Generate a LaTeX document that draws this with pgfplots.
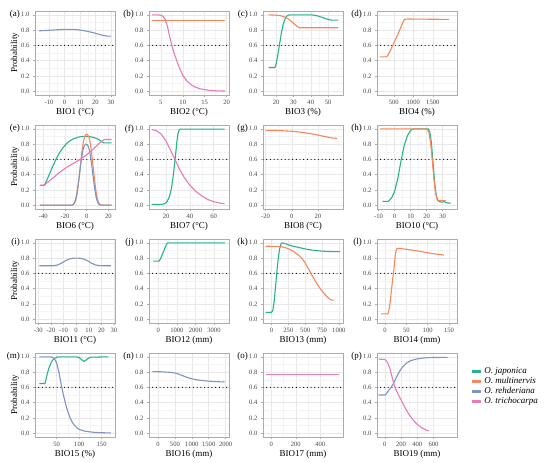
\documentclass[border=0pt]{standalone}
\usepackage{fontspec}
\setmainfont{Liberation Serif}
\usepackage{pgfplots}
\pgfplotsset{compat=1.18}
\definecolor{cjap}{RGB}{38,178,143}
\definecolor{cmul}{RGB}{246,135,90}
\definecolor{creh}{RGB}{125,148,196}
\definecolor{ctri}{RGB}{232,122,184}
\tikzset{plab/.style={font=\fontsize{9}{10}\selectfont, anchor=east, inner sep=0pt}}
\pgfplotsset{
  panel/.style={
    scale only axis, width=80pt, height=84pt, anchor=north west,
    ymin=-0.05, ymax=1.05, ytick={0,0.2,0.4,0.6,0.8,1},
    minor x tick num=1, minor y tick num=1,
    grid=both,
    major grid style={gray!18, line width=0.5pt},
    minor grid style={gray!9, line width=0.35pt},
    axis line style={gray!65, line width=0.5pt},
    tick pos=left, tick align=outside,
    major tick length=2pt, minor tick length=0pt,
    tick style={gray!65, line width=0.5pt},
    /pgf/number format/assume math mode=true,
    scaled ticks=false,
    ticklabel style={font=\fontsize{6.6}{7}\selectfont, text=black!72},
    yticklabel style={/pgf/number format/.cd, fixed, fixed zerofill, precision=1},
    xticklabel style={/pgf/number format/.cd, fixed, 1000 sep={}},
    xlabel style={font=\fontsize{9}{10}\selectfont, at={(axis description cs:0.5,0)}, anchor=center, yshift=-17pt},
    ylabel style={font=\fontsize{9}{10}\selectfont, at={(axis description cs:-0.25,0.5)}, anchor=center},
    every axis plot/.append style={line width=1.1pt, no markers, line join=round},
  },
  thr/.style={black, line width=1.2pt, line cap=round, dash pattern=on 0pt off 3.7pt},
}
\newcommand{\keyimg}[1]{\addlegendimage{legend image code/.code={\fill[#1] (0pt,-0.9pt) rectangle (8pt,0.9pt); \path (11pt,0pt);}}}
\begin{document}
\begin{tikzpicture}[x=1pt,y=1pt]
\path[use as bounding box] (0,0) rectangle (550,463);
% ---------- row 1 ----------
\begin{axis}[panel, name=a, at={(35pt,452pt)}, xmin=-19, xmax=32.6, xtick={-10,0,10,20,30}, xlabel={BIO1 (°C)}, ylabel={Probability}]
\addplot[thr] coordinates {(-19,0.6)(32.6,0.6)};
\addplot[creh] coordinates {(-16.4,0.79)(-12,0.795)(-8,0.8)(-4,0.805)(0,0.81)(4,0.81)(8,0.806)(12,0.795)(16,0.778)(20,0.758)(24,0.735)(27,0.722)(30,0.72)};
\end{axis}
\node[plab] at ([xshift=-15pt,yshift=-3.8pt]a.north west) {(a)};

\begin{axis}[panel, name=b, at={(149pt,452pt)}, xmin=2.3, xmax=20.55, xtick={5,10,15,20}, xlabel={BIO2 (°C)}]
\addplot[thr] coordinates {(2.3,0.6)(20.55,0.6)};
\addplot[cmul] coordinates {(3.0,0.93)(19.6,0.93)};
\addplot[ctri] coordinates {(3.0,1.0)(4,1.0)(5,0.995)(5.5,0.98)(6,0.94)(6.5,0.85)(7,0.72)(7.5,0.6)(8,0.5)(8.5,0.42)(9,0.34)(9.5,0.27)(10,0.21)(11,0.13)(12,0.08)(13,0.05)(14,0.03)(15,0.02)(16,0.012)(17,0.007)(18,0.004)(19.6,0.002)};
\end{axis}
\node[plab] at ([xshift=-15pt,yshift=-3.8pt]b.north west) {(b)};

\begin{axis}[panel, name=c, at={(263pt,452pt)}, xmin=12.4, xmax=58.6, xtick={20,30,40,50}, xlabel={BIO3 (\%)}]
\addplot[thr] coordinates {(12.4,0.6)(58.6,0.6)};
\addplot[cjap] coordinates {(15.6,0.31)(19.3,0.31)(20,0.36)(21,0.48)(22,0.62)(23,0.76)(24,0.87)(25,0.94)(26,0.98)(27,0.995)(28,1.0)(40,1.0)(42,0.995)(44,0.985)(46,0.97)(48,0.955)(50,0.94)(52,0.93)(54,0.93)(56,0.93)};
\addplot[cmul] coordinates {(15.6,1.0)(20,0.995)(22,0.99)(24,0.98)(26,0.96)(28,0.93)(30,0.89)(32,0.85)(33.5,0.83)(56,0.83)};
\end{axis}
\node[plab] at ([xshift=-15pt,yshift=-3.8pt]c.north west) {(c)};

\begin{axis}[panel, name=d, at={(377pt,452pt)}, xmin=70, xmax=2120, xtick={500,1000,1500}, xlabel={BIO4 (\%)}]
\addplot[thr] coordinates {(70,0.6)(2120,0.6)};
\addplot[cmul] coordinates {(140,0.45)(315,0.45)(350,0.47)(400,0.52)(500,0.63)(600,0.74)(700,0.86)(750,0.92)(780,0.94)(850,0.945)(1920,0.94)};
\end{axis}
\node[plab] at ([xshift=-15pt,yshift=-3.8pt]d.north west) {(d)};
% ---------- row 2 ----------
\begin{axis}[panel, name=e, at={(35pt,338pt)}, xmin=-47.7, xmax=26.1, xtick={-40,-20,0,20}, xlabel={BIO6 (°C)}, ylabel={Probability}]
\addplot[thr] coordinates {(-47.7,0.6)(26.1,0.6)};
\addplot[cjap] coordinates {(-43.1,0.26)(-39,0.26)(-37,0.32)(-34,0.42)(-31,0.52)(-28,0.61)(-25,0.69)(-22,0.75)(-19,0.8)(-16,0.84)(-12,0.87)(-8,0.89)(-4,0.9)(0,0.9)(4,0.895)(8,0.88)(11,0.86)(14,0.83)(16,0.815)(18,0.815)(23,0.815)};
\addplot[cmul] coordinates {(-43.1,0)(-14,0)(-13,0.003)(-12,0.011)(-11,0.033)(-10,0.074)(-9,0.14)(-8,0.242)(-7,0.363)(-6,0.493)(-5,0.623)(-4,0.744)(-3,0.837)(-2,0.893)(-1,0.92)(0,0.93)(1,0.92)(2,0.893)(3,0.837)(4,0.744)(5,0.623)(6,0.493)(7,0.363)(8,0.242)(9,0.14)(10,0.074)(11,0.033)(12,0.011)(13,0.003)(14,0)(23,0)};
\addplot[creh] coordinates {(-43.1,0)(-14.5,0)(-13.5,0.002)(-12.5,0.01)(-11.5,0.028)(-10.5,0.064)(-9.5,0.12)(-8.5,0.208)(-7.5,0.312)(-6.5,0.424)(-5.5,0.536)(-4.5,0.64)(-3.5,0.72)(-2.5,0.768)(-1.5,0.792)(-0.5,0.8)(0.5,0.792)(1.5,0.768)(2.5,0.72)(3.5,0.64)(4.5,0.536)(5.5,0.424)(6.5,0.312)(7.5,0.208)(8.5,0.12)(9.5,0.064)(10.5,0.028)(11.5,0.01)(12.5,0.002)(13.5,0)(23,0)};
\addplot[ctri] coordinates {(-43.1,0.26)(-39,0.265)(-36,0.3)(-30,0.37)(-24,0.44)(-18,0.5)(-12,0.55)(-6,0.6)(0,0.66)(5,0.72)(10,0.79)(14,0.84)(16.5,0.86)(23,0.86)};
\end{axis}
\node[plab] at ([xshift=-15pt,yshift=-3.8pt]e.north west) {(e)};

\begin{axis}[panel, name=f, at={(149pt,338pt)}, xmin=5.7, xmax=72.8, xtick={20,40,60}, xlabel={BIO7 (°C)}]
\addplot[thr] coordinates {(5.7,0.6)(72.8,0.6)};
\addplot[cjap] coordinates {(8,0.01)(16,0.01)(19,0.02)(21,0.05)(23,0.12)(24.5,0.22)(26,0.38)(27,0.52)(28,0.66)(29,0.82)(30,0.94)(31,0.985)(32,0.995)(40,0.995)(69.1,0.995)};
\addplot[ctri] coordinates {(8,0.99)(12,0.975)(16,0.93)(20,0.84)(24,0.71)(27.5,0.6)(31,0.48)(35,0.37)(40,0.26)(45,0.18)(50,0.12)(55,0.075)(60,0.045)(65,0.028)(69.1,0.02)};
\end{axis}
\node[plab] at ([xshift=-15pt,yshift=-3.8pt]f.north west) {(f)};

\begin{axis}[panel, name=g, at={(263pt,338pt)}, xmin=-22, xmax=39.2, xtick={-20,0,20}, xlabel={BIO8 (°C)}]
\addplot[thr] coordinates {(-22,0.6)(39.2,0.6)};
\addplot[cmul] coordinates {(-20,0.98)(-10,0.977)(0,0.968)(5,0.96)(10,0.948)(15,0.935)(20,0.918)(25,0.9)(28,0.89)(31,0.88)(34.7,0.875)};
\end{axis}
\node[plab] at ([xshift=-15pt,yshift=-3.8pt]g.north west) {(g)};

\begin{axis}[panel, name=h, at={(377pt,338pt)}, xmin=-11, xmax=39, xtick={-10,0,10,20,30}, xlabel={BIO10 (°C)}]
\addplot[thr] coordinates {(-11,0.6)(39,0.6)};
\addplot[cjap] coordinates {(-7.6,0.05)(-4,0.05)(-2,0.09)(0,0.18)(2,0.35)(4,0.58)(6,0.78)(8,0.91)(10,0.98)(12,1.0)(21,1.0)(22,0.96)(23,0.82)(24,0.56)(25,0.3)(26,0.13)(27,0.06)(29,0.04)(31,0.045)(33,0.03)(35,0.025)};
\addplot[cmul] coordinates {(-9,1.0)(19,1.0)(20.5,0.99)(21.5,0.95)(22.5,0.82)(23.5,0.6)(24.5,0.36)(25.5,0.17)(26.5,0.08)(27.5,0.06)(32,0.06)};
\end{axis}
\node[plab] at ([xshift=-15pt,yshift=-3.8pt]h.north west) {(h)};
% ---------- row 3 ----------
\begin{axis}[panel, name=i, at={(35pt,224pt)}, xmin=-32.6, xmax=30.8, xtick={-30,-20,-10,0,10,20,30}, minor x tick num=0, xlabel={BIO11 (°C)}, ylabel={Probability}]
\addplot[thr] coordinates {(-32.6,0.6)(30.8,0.6)};
\addplot[creh] coordinates {(-29.2,0.70)(-18,0.70)(-15,0.708)(-12,0.73)(-9,0.76)(-6,0.785)(-3,0.797)(0,0.8)(3,0.798)(6,0.787)(9,0.765)(12,0.735)(15,0.712)(18,0.702)(21,0.70)(27.6,0.70)};
\end{axis}
\node[plab] at ([xshift=-15pt,yshift=-3.8pt]i.north west) {(i)};

\begin{axis}[panel, name=j, at={(149pt,224pt)}, xmin=-505, xmax=3809, xtick={0,1000,2000,3000}, xlabel={BIO12 (mm)}]
\addplot[thr] coordinates {(-505,0.6)(3809,0.6)};
\addplot[cjap] coordinates {(-288,0.76)(35,0.76)(80,0.775)(150,0.81)(250,0.87)(350,0.93)(430,0.975)(483,0.995)(550,1.0)(3580,1.0)};
\end{axis}
\node[plab] at ([xshift=-15pt,yshift=-3.8pt]j.north west) {(j)};

\begin{axis}[panel, name=k, at={(263pt,224pt)}, xmin=-127, xmax=1062, xtick={0,250,500,750,1000}, minor x tick num=0, xlabel={BIO13 (mm)}]
\addplot[thr] coordinates {(-127,0.6)(1062,0.6)};
\addplot[cjap] coordinates {(-87,0.09)(0,0.09)(20,0.12)(40,0.24)(60,0.43)(80,0.63)(100,0.8)(120,0.92)(140,0.985)(155,1.0)(200,0.99)(300,0.96)(400,0.94)(500,0.92)(600,0.905)(700,0.895)(800,0.888)(900,0.885)(1021,0.885)};
\addplot[cmul] coordinates {(-87,0.955)(100,0.953)(150,0.948)(200,0.938)(250,0.922)(300,0.9)(350,0.872)(400,0.838)(450,0.797)(500,0.735)(550,0.655)(600,0.575)(650,0.5)(700,0.43)(750,0.37)(800,0.315)(850,0.275)(880,0.255)(900,0.25)(931,0.25)};
\end{axis}
\node[plab] at ([xshift=-15pt,yshift=-3.8pt]k.north west) {(k)};

\begin{axis}[panel, name=l, at={(377pt,224pt)}, xmin=-18.7, xmax=168.7, xtick={0,50,100,150}, xlabel={BIO14 (mm)}]
\addplot[thr] coordinates {(-18.7,0.6)(168.7,0.6)};
\addplot[cmul] coordinates {(-9.7,0.07)(6,0.07)(8,0.09)(10,0.14)(12,0.22)(14,0.32)(16,0.42)(18,0.52)(20,0.6)(22,0.72)(24,0.83)(26,0.9)(28,0.925)(35,0.925)(50,0.915)(70,0.9)(90,0.88)(110,0.86)(125,0.848)(137.8,0.84)};
\end{axis}
\node[plab] at ([xshift=-15pt,yshift=-3.8pt]l.north west) {(l)};
% ---------- row 4 ----------
\begin{axis}[panel, name=m, at={(35pt,110pt)}, xmin=1.8, xmax=179.7, xtick={50,100,150}, xlabel={BIO15 (\%)}, ylabel={Probability}]
\addplot[thr] coordinates {(1.8,0.6)(179.7,0.6)};
\addplot[cjap] coordinates {(11.4,0.65)(24,0.65)(28,0.75)(32,0.84)(36,0.9)(40,0.95)(45,0.98)(53,1.0)(95,1.0)(100,0.99)(105,0.965)(111,0.94)(116,0.96)(120,0.98)(125,0.995)(165,1.0)};
\addplot[creh] coordinates {(11.4,1.0)(35,1.0)(40,0.995)(45,0.975)(50,0.92)(55,0.8)(60,0.64)(65,0.5)(70,0.38)(75,0.28)(80,0.2)(85,0.14)(90,0.1)(95,0.07)(100,0.05)(110,0.03)(120,0.02)(135,0.01)(150,0.006)(170.8,0.003)};
\end{axis}
\node[plab] at ([xshift=-15pt,yshift=-3.8pt]m.north west) {(m)};

\begin{axis}[panel, name=n, at={(149pt,110pt)}, xmin=-266, xmax=2099, xtick={0,500,1000,1500,2000}, minor x tick num=0, xlabel={BIO16 (mm)}]
\addplot[thr] coordinates {(-266,0.6)(2099,0.6)};
\addplot[creh] coordinates {(-167,0.807)(0,0.805)(200,0.802)(400,0.795)(500,0.788)(600,0.775)(700,0.758)(800,0.74)(900,0.724)(1000,0.712)(1200,0.695)(1400,0.685)(1600,0.678)(1800,0.673)(1970,0.67)};
\end{axis}
\node[plab] at ([xshift=-15pt,yshift=-3.8pt]n.north west) {(n)};

\begin{axis}[panel, name=o, at={(263pt,110pt)}, xmin=-68, xmax=585, xtick={0,200,400}, xlabel={BIO17 (mm)}]
\addplot[thr] coordinates {(-68,0.6)(585,0.6)};
\addplot[ctri] coordinates {(-40,0.765)(549,0.765)};
\end{axis}
\node[plab] at ([xshift=-15pt,yshift=-3.8pt]o.north west) {(o)};

\begin{axis}[panel, name=p, at={(377pt,110pt)}, xmin=-97, xmax=889, xtick={0,200,400,600}, xlabel={BIO19 (mm)},
  legend style={at={(1.1875,0.6)}, anchor=west, draw=none, fill=none, inner sep=0pt,
    font=\fontsize{9}{10}\selectfont\itshape,
    nodes={inner sep=0pt, text height=6.5pt, text depth=2.2pt}, row sep=1.3pt},
  legend cell align=left]
\addplot[thr, forget plot] coordinates {(-97,0.6)(889,0.6)};
\addplot[creh, forget plot] coordinates {(-77,0.5)(5,0.5)(20,0.52)(40,0.55)(77,0.6)(100,0.64)(124,0.69)(150,0.75)(193,0.83)(230,0.88)(270,0.92)(320,0.95)(386,0.97)(450,0.982)(541,0.99)(773,0.993)};
\addplot[ctri, forget plot] coordinates {(-77,0.97)(0,0.965)(20,0.945)(40,0.91)(60,0.85)(80,0.77)(100,0.69)(125,0.6)(150,0.54)(175,0.485)(200,0.435)(250,0.33)(300,0.24)(350,0.17)(400,0.115)(450,0.075)(500,0.045)(541,0.03)};
\keyimg{cjap}\addlegendentry{O. japonica}
\keyimg{cmul}\addlegendentry{O. multinervis}
\keyimg{creh}\addlegendentry{O. rehderiana}
\keyimg{ctri}\addlegendentry{O. trichocarpa}
\end{axis}
\node[plab] at ([xshift=-15pt,yshift=-3.8pt]p.north west) {(p)};
\end{tikzpicture}
\end{document}
